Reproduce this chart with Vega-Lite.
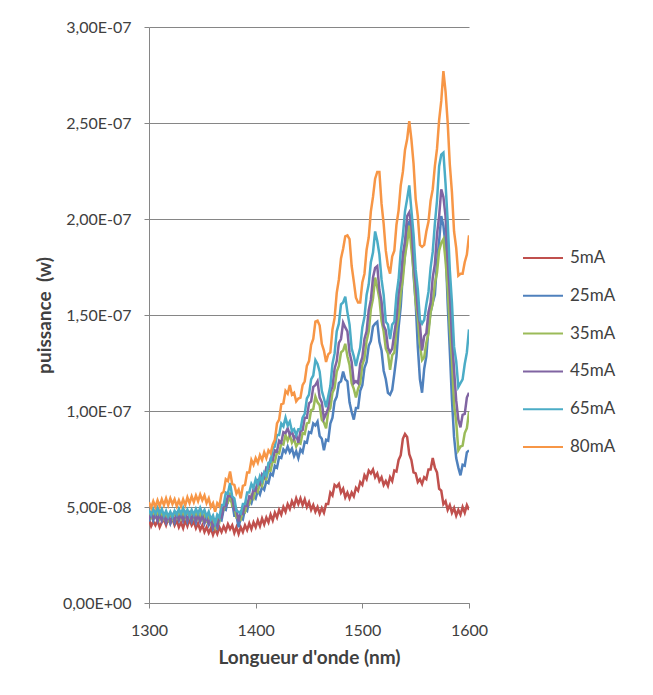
{
"$schema": "https://vega.github.io/schema/vega-lite/v6.json",
"width": 320, "height": 576,
"autosize": "none",
"padding": {"left": 149, "top": 27, "right": 184, "bottom": 92},
"background": "white",
"data": {"values": [
{"w":1300,"5mA":4.35e-8,"25mA":4.25e-8,"35mA":4.75e-8,"45mA":4.35e-8,"65mA":4.85e-8,"80mA":5.25e-8},
{"w":1302,"5mA":4.0e-8,"25mA":4.6e-8,"35mA":4.45e-8,"45mA":4.65e-8,"65mA":4.6e-8,"80mA":4.95e-8},
{"w":1304,"5mA":4.25e-8,"25mA":4.3e-8,"35mA":4.7e-8,"45mA":4.4e-8,"65mA":4.9e-8,"80mA":5.3e-8},
{"w":1306,"5mA":4.05e-8,"25mA":4.65e-8,"35mA":4.5e-8,"45mA":4.6e-8,"65mA":4.65e-8,"80mA":5.0e-8},
{"w":1308,"5mA":4.3e-8,"25mA":4.3e-8,"35mA":4.8e-8,"45mA":4.3e-8,"65mA":4.95e-8,"80mA":5.35e-8},
{"w":1310,"5mA":3.95e-8,"25mA":4.7e-8,"35mA":4.4e-8,"45mA":4.6e-8,"65mA":4.65e-8,"80mA":5.05e-8},
{"w":1312,"5mA":4.2e-8,"25mA":4.3e-8,"35mA":4.7e-8,"45mA":4.3e-8,"65mA":4.9e-8,"80mA":5.4e-8},
{"w":1314,"5mA":4.35e-8,"25mA":4.55e-8,"35mA":4.4e-8,"45mA":4.55e-8,"65mA":4.55e-8,"80mA":5.1e-8},
{"w":1316,"5mA":4.05e-8,"25mA":4.2e-8,"35mA":4.65e-8,"45mA":4.25e-8,"65mA":4.8e-8,"80mA":5.45e-8},
{"w":1318,"5mA":4.4e-8,"25mA":4.5e-8,"35mA":4.35e-8,"45mA":4.5e-8,"65mA":4.5e-8,"80mA":5.1e-8},
{"w":1320,"5mA":4.15e-8,"25mA":4.15e-8,"35mA":4.65e-8,"45mA":4.25e-8,"65mA":4.75e-8,"80mA":5.45e-8},
{"w":1322,"5mA":4.4e-8,"25mA":4.5e-8,"35mA":4.4e-8,"45mA":4.55e-8,"65mA":4.5e-8,"80mA":5.15e-8},
{"w":1324,"5mA":4.05e-8,"25mA":4.2e-8,"35mA":4.7e-8,"45mA":4.3e-8,"65mA":4.8e-8,"80mA":5.4e-8},
{"w":1326,"5mA":4.3e-8,"25mA":4.6e-8,"35mA":4.45e-8,"45mA":4.6e-8,"65mA":4.6e-8,"80mA":5.05e-8},
{"w":1328,"5mA":3.95e-8,"25mA":4.3e-8,"35mA":4.75e-8,"45mA":4.35e-8,"65mA":4.9e-8,"80mA":5.35e-8},
{"w":1330,"5mA":4.2e-8,"25mA":4.65e-8,"35mA":4.4e-8,"45mA":4.6e-8,"65mA":4.65e-8,"80mA":5.05e-8},
{"w":1332,"5mA":3.9e-8,"25mA":4.3e-8,"35mA":4.7e-8,"45mA":4.3e-8,"65mA":4.95e-8,"80mA":5.4e-8},
{"w":1334,"5mA":4.3e-8,"25mA":4.65e-8,"35mA":4.45e-8,"45mA":4.6e-8,"65mA":4.6e-8,"80mA":5.1e-8},
{"w":1336,"5mA":4.0e-8,"25mA":4.25e-8,"35mA":4.8e-8,"45mA":4.35e-8,"65mA":4.85e-8,"80mA":5.5e-8},
{"w":1338,"5mA":4.35e-8,"25mA":4.6e-8,"35mA":4.5e-8,"45mA":4.65e-8,"65mA":4.55e-8,"80mA":5.2e-8},
{"w":1340,"5mA":4.05e-8,"25mA":4.25e-8,"35mA":4.75e-8,"45mA":4.35e-8,"65mA":4.85e-8,"80mA":5.55e-8},
{"w":1342,"5mA":4.25e-8,"25mA":4.55e-8,"35mA":4.45e-8,"45mA":4.6e-8,"65mA":4.6e-8,"80mA":5.25e-8},
{"w":1344,"5mA":3.9e-8,"25mA":4.2e-8,"35mA":4.7e-8,"45mA":4.3e-8,"65mA":4.9e-8,"80mA":5.6e-8},
{"w":1346,"5mA":4.15e-8,"25mA":4.6e-8,"35mA":4.4e-8,"45mA":4.55e-8,"65mA":4.65e-8,"80mA":5.3e-8},
{"w":1348,"5mA":3.8e-8,"25mA":4.25e-8,"35mA":4.65e-8,"45mA":4.25e-8,"65mA":4.95e-8,"80mA":5.65e-8},
{"w":1350,"5mA":4.05e-8,"25mA":4.55e-8,"35mA":4.35e-8,"45mA":4.55e-8,"65mA":4.65e-8,"80mA":5.35e-8},
{"w":1352,"5mA":3.7e-8,"25mA":4.15e-8,"35mA":4.6e-8,"45mA":4.2e-8,"65mA":4.85e-8,"80mA":5.6e-8},
{"w":1354,"5mA":3.95e-8,"25mA":4.45e-8,"35mA":4.3e-8,"45mA":4.45e-8,"65mA":4.5e-8,"80mA":5.2e-8},
{"w":1356,"5mA":3.65e-8,"25mA":4.05e-8,"35mA":4.55e-8,"45mA":4.15e-8,"65mA":4.75e-8,"80mA":5.45e-8},
{"w":1358,"5mA":3.9e-8,"25mA":4.25e-8,"35mA":4.15e-8,"45mA":4.35e-8,"65mA":4.35e-8,"80mA":5.0e-8},
{"w":1360,"5mA":3.55e-8,"25mA":3.85e-8,"35mA":4.35e-8,"45mA":3.95e-8,"65mA":4.55e-8,"80mA":5.2e-8},
{"w":1362,"5mA":3.85e-8,"25mA":4.05e-8,"35mA":3.95e-8,"45mA":4.15e-8,"65mA":4.15e-8,"80mA":4.75e-8},
{"w":1364,"5mA":3.6e-8,"25mA":3.9e-8,"35mA":4.4e-8,"45mA":4.0e-8,"65mA":4.6e-8,"80mA":5.2e-8},
{"w":1366,"5mA":3.95e-8,"25mA":4.35e-8,"35mA":4.25e-8,"45mA":4.45e-8,"65mA":4.45e-8,"80mA":5.05e-8},
{"w":1368,"5mA":3.7e-8,"25mA":4.3e-8,"35mA":4.85e-8,"45mA":4.45e-8,"65mA":5.1e-8,"80mA":5.7e-8},
{"w":1370,"5mA":4.0e-8,"25mA":4.9e-8,"35mA":4.85e-8,"45mA":5.05e-8,"65mA":5.1e-8,"80mA":5.8e-8},
{"w":1372,"5mA":3.75e-8,"25mA":4.85e-8,"35mA":5.35e-8,"45mA":5.05e-8,"65mA":5.75e-8,"80mA":6.45e-8},
{"w":1374,"5mA":4.1e-8,"25mA":5.4e-8,"35mA":5.25e-8,"45mA":5.6e-8,"65mA":5.7e-8,"80mA":6.35e-8},
{"w":1376,"5mA":3.85e-8,"25mA":5.35e-8,"35mA":5.75e-8,"45mA":5.55e-8,"65mA":6.25e-8,"80mA":6.85e-8},
{"w":1378,"5mA":4.05e-8,"25mA":5.25e-8,"35mA":5.05e-8,"45mA":5.5e-8,"65mA":5.55e-8,"80mA":6.2e-8},
{"w":1380,"5mA":3.65e-8,"25mA":4.55e-8,"35mA":5.05e-8,"45mA":4.85e-8,"65mA":5.45e-8,"80mA":6.15e-8},
{"w":1382,"5mA":3.95e-8,"25mA":4.55e-8,"35mA":4.45e-8,"45mA":4.85e-8,"65mA":4.8e-8,"80mA":5.7e-8},
{"w":1384,"5mA":3.6e-8,"25mA":3.95e-8,"35mA":4.45e-8,"45mA":4.25e-8,"65mA":4.75e-8,"80mA":5.9e-8},
{"w":1386,"5mA":3.95e-8,"25mA":4.45e-8,"35mA":4.35e-8,"45mA":4.75e-8,"65mA":4.65e-8,"80mA":5.45e-8},
{"w":1388,"5mA":3.7e-8,"25mA":4.35e-8,"35mA":4.85e-8,"45mA":4.65e-8,"65mA":5.15e-8,"80mA":6.1e-8},
{"w":1390,"5mA":4.05e-8,"25mA":4.9e-8,"35mA":4.75e-8,"45mA":5.15e-8,"65mA":5.15e-8,"80mA":6.15e-8},
{"w":1392,"5mA":3.8e-8,"25mA":4.8e-8,"35mA":5.25e-8,"45mA":5.05e-8,"65mA":5.75e-8,"80mA":6.8e-8},
{"w":1394,"5mA":4.15e-8,"25mA":5.35e-8,"35mA":5.15e-8,"45mA":5.55e-8,"65mA":5.75e-8,"80mA":6.8e-8},
{"w":1396,"5mA":3.85e-8,"25mA":5.2e-8,"35mA":5.6e-8,"45mA":5.45e-8,"65mA":6.2e-8,"80mA":7.45e-8},
{"w":1398,"5mA":4.2e-8,"25mA":5.6e-8,"35mA":5.45e-8,"45mA":5.95e-8,"65mA":6.0e-8,"80mA":7.2e-8},
{"w":1400,"5mA":3.95e-8,"25mA":5.45e-8,"35mA":5.95e-8,"45mA":5.85e-8,"65mA":6.45e-8,"80mA":7.55e-8},
{"w":1402,"5mA":4.3e-8,"25mA":5.85e-8,"35mA":5.8e-8,"45mA":6.35e-8,"65mA":6.2e-8,"80mA":7.3e-8},
{"w":1404,"5mA":4.0e-8,"25mA":5.65e-8,"35mA":6.25e-8,"45mA":6.2e-8,"65mA":6.6e-8,"80mA":7.7e-8},
{"w":1406,"5mA":4.4e-8,"25mA":6.05e-8,"35mA":6.1e-8,"45mA":6.7e-8,"65mA":6.35e-8,"80mA":7.45e-8},
{"w":1408,"5mA":4.1e-8,"25mA":5.9e-8,"35mA":6.55e-8,"45mA":6.55e-8,"65mA":6.8e-8,"80mA":7.85e-8},
{"w":1410,"5mA":4.45e-8,"25mA":6.35e-8,"35mA":6.45e-8,"45mA":7.05e-8,"65mA":6.65e-8,"80mA":7.55e-8},
{"w":1412,"5mA":4.2e-8,"25mA":6.25e-8,"35mA":6.95e-8,"45mA":7.0e-8,"65mA":7.3e-8,"80mA":7.95e-8},
{"w":1414,"5mA":4.6e-8,"25mA":6.75e-8,"35mA":6.9e-8,"45mA":7.5e-8,"65mA":7.35e-8,"80mA":7.8e-8},
{"w":1416,"5mA":4.3e-8,"25mA":6.65e-8,"35mA":7.4e-8,"45mA":7.45e-8,"65mA":8.05e-8,"80mA":8.25e-8},
{"w":1418,"5mA":4.7e-8,"25mA":7.15e-8,"35mA":7.35e-8,"45mA":7.95e-8,"65mA":8.15e-8,"80mA":8.5e-8},
{"w":1420,"5mA":4.45e-8,"25mA":7.05e-8,"35mA":7.85e-8,"45mA":7.9e-8,"65mA":8.75e-8,"80mA":9.35e-8},
{"w":1422,"5mA":4.85e-8,"25mA":7.6e-8,"35mA":7.8e-8,"45mA":8.45e-8,"65mA":8.75e-8,"80mA":9.55e-8},
{"w":1424,"5mA":4.6e-8,"25mA":7.55e-8,"35mA":8.3e-8,"45mA":8.35e-8,"65mA":9.35e-8,"80mA":10.35e-8},
{"w":1426,"5mA":5.0e-8,"25mA":8.0e-8,"35mA":8.25e-8,"45mA":8.9e-8,"65mA":9.2e-8,"80mA":10.4e-8},
{"w":1428,"5mA":4.75e-8,"25mA":7.85e-8,"35mA":8.75e-8,"45mA":8.85e-8,"65mA":9.65e-8,"80mA":11.05e-8},
{"w":1430,"5mA":5.15e-8,"25mA":8.15e-8,"35mA":8.45e-8,"45mA":9.1e-8,"65mA":9.25e-8,"80mA":10.9e-8},
{"w":1432,"5mA":4.9e-8,"25mA":7.85e-8,"35mA":8.75e-8,"45mA":8.75e-8,"65mA":9.45e-8,"80mA":11.35e-8},
{"w":1434,"5mA":5.3e-8,"25mA":8.05e-8,"35mA":8.35e-8,"45mA":8.95e-8,"65mA":8.95e-8,"80mA":10.85e-8},
{"w":1436,"5mA":5.05e-8,"25mA":7.65e-8,"35mA":8.55e-8,"45mA":8.55e-8,"65mA":9.05e-8,"80mA":10.95e-8},
{"w":1438,"5mA":5.45e-8,"25mA":7.9e-8,"35mA":8.15e-8,"45mA":8.75e-8,"65mA":8.75e-8,"80mA":10.5e-8},
{"w":1440,"5mA":5.15e-8,"25mA":7.55e-8,"35mA":8.35e-8,"45mA":8.35e-8,"65mA":9.05e-8,"80mA":10.65e-8},
{"w":1442,"5mA":5.45e-8,"25mA":8.0e-8,"35mA":8.3e-8,"45mA":8.95e-8,"65mA":9.05e-8,"80mA":10.7e-8},
{"w":1444,"5mA":5.1e-8,"25mA":7.85e-8,"35mA":8.85e-8,"45mA":9.0e-8,"65mA":9.65e-8,"80mA":11.35e-8},
{"w":1446,"5mA":5.4e-8,"25mA":8.4e-8,"35mA":8.8e-8,"45mA":9.65e-8,"65mA":9.85e-8,"80mA":11.55e-8},
{"w":1448,"5mA":5.0e-8,"25mA":8.35e-8,"35mA":9.35e-8,"45mA":9.65e-8,"65mA":10.65e-8,"80mA":12.35e-8},
{"w":1450,"5mA":5.25e-8,"25mA":8.9e-8,"35mA":9.4e-8,"45mA":10.4e-8,"65mA":10.85e-8,"80mA":12.6e-8},
{"w":1452,"5mA":4.85e-8,"25mA":8.85e-8,"35mA":10.05e-8,"45mA":10.5e-8,"65mA":11.65e-8,"80mA":13.45e-8},
{"w":1454,"5mA":5.1e-8,"25mA":9.35e-8,"35mA":10.1e-8,"45mA":11.25e-8,"65mA":11.85e-8,"80mA":13.75e-8},
{"w":1456,"5mA":4.75e-8,"25mA":9.25e-8,"35mA":10.75e-8,"45mA":11.35e-8,"65mA":12.65e-8,"80mA":14.65e-8},
{"w":1458,"5mA":5.0e-8,"25mA":9.45e-8,"35mA":10.45e-8,"45mA":11.55e-8,"65mA":12.45e-8,"80mA":14.7e-8},
{"w":1460,"5mA":4.65e-8,"25mA":8.7e-8,"35mA":10.3e-8,"45mA":10.7e-8,"65mA":12.05e-8,"80mA":14.45e-8},
{"w":1462,"5mA":4.95e-8,"25mA":8.55e-8,"35mA":9.55e-8,"45mA":10.45e-8,"65mA":11.05e-8,"80mA":13.5e-8},
{"w":1464,"5mA":4.7e-8,"25mA":7.95e-8,"35mA":9.4e-8,"45mA":9.6e-8,"65mA":10.65e-8,"80mA":13.15e-8},
{"w":1466,"5mA":5.15e-8,"25mA":8.5e-8,"35mA":9.1e-8,"45mA":9.85e-8,"65mA":10.2e-8,"80mA":12.55e-8},
{"w":1468,"5mA":5.15e-8,"25mA":8.45e-8,"35mA":9.95e-8,"45mA":10.15e-8,"65mA":10.75e-8,"80mA":12.95e-8},
{"w":1470,"5mA":5.75e-8,"25mA":9.35e-8,"35mA":10.15e-8,"45mA":11.0e-8,"65mA":11.3e-8,"80mA":13.05e-8},
{"w":1472,"5mA":5.6e-8,"25mA":9.65e-8,"35mA":10.95e-8,"45mA":11.25e-8,"65mA":12.45e-8,"80mA":14.25e-8},
{"w":1474,"5mA":6.15e-8,"25mA":10.5e-8,"35mA":11.2e-8,"45mA":12.2e-8,"65mA":13.0e-8,"80mA":14.85e-8},
{"w":1476,"5mA":6.05e-8,"25mA":10.75e-8,"35mA":12.05e-8,"45mA":12.6e-8,"65mA":14.15e-8,"80mA":16.15e-8},
{"w":1478,"5mA":6.2e-8,"25mA":11.45e-8,"35mA":12.35e-8,"45mA":13.55e-8,"65mA":14.55e-8,"80mA":16.85e-8},
{"w":1480,"5mA":5.75e-8,"25mA":11.55e-8,"35mA":13.05e-8,"45mA":13.75e-8,"65mA":15.55e-8,"80mA":17.95e-8},
{"w":1482,"5mA":5.95e-8,"25mA":12.05e-8,"35mA":13.15e-8,"45mA":14.6e-8,"65mA":15.65e-8,"80mA":18.45e-8},
{"w":1484,"5mA":5.5e-8,"25mA":11.65e-8,"35mA":13.5e-8,"45mA":14.35e-8,"65mA":15.95e-8,"80mA":19.1e-8},
{"w":1486,"5mA":5.75e-8,"25mA":11.55e-8,"35mA":12.85e-8,"45mA":14.15e-8,"65mA":15.15e-8,"80mA":19.15e-8},
{"w":1488,"5mA":5.45e-8,"25mA":10.45e-8,"35mA":12.4e-8,"45mA":13.05e-8,"65mA":14.5e-8,"80mA":18.95e-8},
{"w":1490,"5mA":5.75e-8,"25mA":9.95e-8,"35mA":11.45e-8,"45mA":12.55e-8,"65mA":13.25e-8,"80mA":17.55e-8},
{"w":1492,"5mA":5.55e-8,"25mA":9.55e-8,"35mA":11.15e-8,"45mA":11.45e-8,"65mA":12.85e-8,"80mA":16.75e-8},
{"w":1494,"5mA":6.0e-8,"25mA":10.15e-8,"35mA":10.7e-8,"45mA":11.55e-8,"65mA":12.35e-8,"80mA":15.9e-8},
{"w":1496,"5mA":5.85e-8,"25mA":10.15e-8,"35mA":11.15e-8,"45mA":11.45e-8,"65mA":12.85e-8,"80mA":15.65e-8},
{"w":1498,"5mA":6.3e-8,"25mA":11.05e-8,"35mA":11.45e-8,"45mA":12.45e-8,"65mA":13.3e-8,"80mA":15.65e-8},
{"w":1500,"5mA":6.15e-8,"25mA":11.35e-8,"35mA":12.4e-8,"45mA":12.8e-8,"65mA":14.35e-8,"80mA":16.7e-8},
{"w":1502,"5mA":6.65e-8,"25mA":12.25e-8,"35mA":12.75e-8,"45mA":13.75e-8,"65mA":14.9e-8,"80mA":17.15e-8},
{"w":1504,"5mA":6.45e-8,"25mA":12.55e-8,"35mA":13.65e-8,"45mA":14.15e-8,"65mA":16.05e-8,"80mA":18.4e-8},
{"w":1506,"5mA":6.9e-8,"25mA":13.4e-8,"35mA":14.15e-8,"45mA":15.25e-8,"65mA":16.6e-8,"80mA":19.05e-8},
{"w":1508,"5mA":6.75e-8,"25mA":13.65e-8,"35mA":15.3e-8,"45mA":15.8e-8,"65mA":17.75e-8,"80mA":20.4e-8},
{"w":1510,"5mA":6.95e-8,"25mA":14.4e-8,"35mA":15.85e-8,"45mA":16.95e-8,"65mA":18.25e-8,"80mA":21.15e-8},
{"w":1512,"5mA":6.55e-8,"25mA":14.55e-8,"35mA":16.95e-8,"45mA":17.45e-8,"65mA":19.35e-8,"80mA":22.1e-8},
{"w":1514,"5mA":6.75e-8,"25mA":14.65e-8,"35mA":16.45e-8,"45mA":17.55e-8,"65mA":18.85e-8,"80mA":22.45e-8},
{"w":1516,"5mA":6.35e-8,"25mA":13.6e-8,"35mA":15.85e-8,"45mA":16.3e-8,"65mA":18.15e-8,"80mA":22.45e-8},
{"w":1518,"5mA":6.55e-8,"25mA":13.15e-8,"35mA":14.7e-8,"45mA":15.7e-8,"65mA":16.85e-8,"80mA":20.8e-8},
{"w":1520,"5mA":6.15e-8,"25mA":12.1e-8,"35mA":14.15e-8,"45mA":14.45e-8,"65mA":16.05e-8,"80mA":19.75e-8},
{"w":1522,"5mA":6.35e-8,"25mA":11.65e-8,"35mA":13.25e-8,"45mA":14.2e-8,"65mA":14.65e-8,"80mA":18.35e-8},
{"w":1524,"5mA":6.1e-8,"25mA":10.95e-8,"35mA":13.0e-8,"45mA":13.3e-8,"65mA":14.5e-8,"80mA":17.55e-8},
{"w":1526,"5mA":6.55e-8,"25mA":10.85e-8,"35mA":12.15e-8,"45mA":13.05e-8,"65mA":13.75e-8,"80mA":17.15e-8},
{"w":1528,"5mA":6.35e-8,"25mA":11.1e-8,"35mA":12.9e-8,"45mA":13.25e-8,"65mA":14.5e-8,"80mA":18.05e-8},
{"w":1530,"5mA":6.9e-8,"25mA":11.95e-8,"35mA":13.05e-8,"45mA":14.05e-8,"65mA":14.65e-8,"80mA":18.35e-8},
{"w":1532,"5mA":6.85e-8,"25mA":12.85e-8,"35mA":14.25e-8,"45mA":14.8e-8,"65mA":16.05e-8,"80mA":19.7e-8},
{"w":1534,"5mA":7.45e-8,"25mA":14.35e-8,"35mA":14.9e-8,"45mA":16.1e-8,"65mA":16.85e-8,"80mA":20.45e-8},
{"w":1536,"5mA":7.7e-8,"25mA":15.45e-8,"35mA":16.15e-8,"45mA":16.85e-8,"65mA":18.3e-8,"80mA":21.75e-8},
{"w":1538,"5mA":8.55e-8,"25mA":17.15e-8,"35mA":16.85e-8,"45mA":18.15e-8,"65mA":19.15e-8,"80mA":22.45e-8},
{"w":1540,"5mA":8.8e-8,"25mA":18.1e-8,"35mA":18.1e-8,"45mA":18.85e-8,"65mA":20.4e-8,"80mA":23.6e-8},
{"w":1542,"5mA":8.65e-8,"25mA":19.65e-8,"35mA":18.75e-8,"45mA":20.15e-8,"65mA":21.05e-8,"80mA":24.15e-8},
{"w":1544,"5mA":7.75e-8,"25mA":19.85e-8,"35mA":19.65e-8,"45mA":20.35e-8,"65mA":21.75e-8,"80mA":25.1e-8},
{"w":1546,"5mA":7.45e-8,"25mA":19.15e-8,"35mA":18.45e-8,"45mA":19.75e-8,"65mA":20.45e-8,"80mA":24.15e-8},
{"w":1548,"5mA":6.8e-8,"25mA":17.1e-8,"35mA":17.35e-8,"45mA":17.9e-8,"65mA":19.2e-8,"80mA":22.9e-8},
{"w":1550,"5mA":6.75e-8,"25mA":15.65e-8,"35mA":15.65e-8,"45mA":16.65e-8,"65mA":17.35e-8,"80mA":21.05e-8},
{"w":1552,"5mA":6.3e-8,"25mA":13.35e-8,"35mA":14.85e-8,"45mA":15.25e-8,"65mA":16.35e-8,"80mA":20.15e-8},
{"w":1554,"5mA":6.45e-8,"25mA":11.65e-8,"35mA":13.45e-8,"45mA":14.5e-8,"65mA":14.75e-8,"80mA":18.65e-8},
{"w":1556,"5mA":6.2e-8,"25mA":10.95e-8,"35mA":12.65e-8,"45mA":13.15e-8,"65mA":14.55e-8,"80mA":18.55e-8},
{"w":1558,"5mA":6.55e-8,"25mA":12.2e-8,"35mA":12.8e-8,"45mA":13.9e-8,"65mA":14.75e-8,"80mA":18.65e-8},
{"w":1560,"5mA":6.45e-8,"25mA":12.85e-8,"35mA":13.55e-8,"45mA":14.05e-8,"65mA":15.55e-8,"80mA":19.35e-8},
{"w":1562,"5mA":6.95e-8,"25mA":14.3e-8,"35mA":14.05e-8,"45mA":15.15e-8,"65mA":16.2e-8,"80mA":19.85e-8},
{"w":1564,"5mA":6.95e-8,"25mA":15.15e-8,"35mA":15.15e-8,"45mA":15.65e-8,"65mA":17.45e-8,"80mA":20.95e-8},
{"w":1566,"5mA":7.55e-8,"25mA":15.65e-8,"35mA":15.6e-8,"45mA":16.95e-8,"65mA":18.3e-8,"80mA":21.55e-8},
{"w":1568,"5mA":7.05e-8,"25mA":16.05e-8,"35mA":16.65e-8,"45mA":17.65e-8,"65mA":19.75e-8,"80mA":22.75e-8},
{"w":1570,"5mA":6.8e-8,"25mA":17.75e-8,"35mA":17.2e-8,"45mA":19.2e-8,"65mA":20.95e-8,"80mA":23.65e-8},
{"w":1572,"5mA":5.95e-8,"25mA":18.85e-8,"35mA":18.35e-8,"45mA":20.15e-8,"65mA":22.75e-8,"80mA":25.15e-8},
{"w":1574,"5mA":5.85e-8,"25mA":20.15e-8,"35mA":18.75e-8,"45mA":21.55e-8,"65mA":23.35e-8,"80mA":26.15e-8},
{"w":1576,"5mA":5.15e-8,"25mA":19.65e-8,"35mA":18.95e-8,"45mA":21.15e-8,"65mA":23.45e-8,"80mA":27.7e-8},
{"w":1578,"5mA":5.3e-8,"25mA":18.65e-8,"35mA":17.85e-8,"45mA":20.15e-8,"65mA":21.85e-8,"80mA":26.65e-8},
{"w":1580,"5mA":4.85e-8,"25mA":15.6e-8,"35mA":16.4e-8,"45mA":17.85e-8,"65mA":19.9e-8,"80mA":25.05e-8},
{"w":1582,"5mA":5.1e-8,"25mA":13.15e-8,"35mA":14.35e-8,"45mA":16.15e-8,"65mA":17.35e-8,"80mA":22.85e-8},
{"w":1584,"5mA":4.7e-8,"25mA":10.6e-8,"35mA":12.65e-8,"45mA":13.85e-8,"65mA":15.65e-8,"80mA":21.4e-8},
{"w":1586,"5mA":4.95e-8,"25mA":8.65e-8,"35mA":10.35e-8,"45mA":12.15e-8,"65mA":13.35e-8,"80mA":19.35e-8},
{"w":1588,"5mA":4.55e-8,"25mA":7.55e-8,"35mA":9.45e-8,"45mA":10.55e-8,"65mA":12.6e-8,"80mA":18.5e-8},
{"w":1590,"5mA":4.85e-8,"25mA":7.05e-8,"35mA":7.95e-8,"45mA":9.55e-8,"65mA":11.25e-8,"80mA":17.05e-8},
{"w":1592,"5mA":4.6e-8,"25mA":6.65e-8,"35mA":8.15e-8,"45mA":9.15e-8,"65mA":11.45e-8,"80mA":17.15e-8},
{"w":1594,"5mA":5.0e-8,"25mA":7.2e-8,"35mA":8.2e-8,"45mA":9.8e-8,"65mA":11.65e-8,"80mA":17.15e-8},
{"w":1596,"5mA":4.7e-8,"25mA":7.15e-8,"35mA":8.85e-8,"45mA":9.85e-8,"65mA":12.45e-8,"80mA":17.75e-8},
{"w":1598,"5mA":5.1e-8,"25mA":7.85e-8,"35mA":9.1e-8,"45mA":10.7e-8,"65mA":13.05e-8,"80mA":18.15e-8},
{"w":1600,"5mA":4.85e-8,"25mA":7.95e-8,"35mA":9.95e-8,"45mA":10.95e-8,"65mA":14.25e-8,"80mA":19.15e-8}
]},
"transform": [{"fold": ["5mA","25mA","35mA","45mA","65mA","80mA"], "as": ["serie","p"]}],
"mark": {"type": "line", "strokeWidth": 2.5, "clip": true},
"encoding": {
  "x": {"field": "w", "type": "quantitative",
    "scale": {"domain": [1300, 1600], "nice": false, "zero": false},
    "axis": {"values": [1300,1400,1500,1600], "format": "d", "grid": false, "labelFlush": false,
      "tickSize": 5, "tickColor": "#868686", "domainColor": "#868686",
      "labelFont": "Lato", "labelFontSize": 16, "labelColor": "#404040", "labelPadding": 14,
      "title": "Longueur d'onde (nm)", "titleFont": "Lato", "titleFontSize": 19, "titleFontWeight": "bold", "titleColor": "#404040", "titlePadding": 10}},
  "y": {"field": "p", "type": "quantitative",
    "scale": {"domain": [0, 3e-7], "nice": false},
    "axis": {"values": [0, 5e-8, 1e-7, 1.5e-7, 2e-7, 2.5e-7, 3e-7],
      "labelExpr": "replace(replace(replace(format(datum.value,'.2e'),'.',','),'e-','E-0'),'e+','E+0')",
      "grid": true, "gridColor": "#868686", "gridWidth": 1,
      "tickSize": 5, "tickColor": "#868686", "domainColor": "#868686",
      "labelFont": "Lato", "labelFontSize": 16, "labelColor": "#404040", "labelPadding": 13,
      "title": "puissance\u00a0 (w)", "titleFont": "Lato", "titleFontSize": 19, "titleFontWeight": "bold", "titleColor": "#404040", "titlePadding": 8}},
  "color": {"field": "serie", "type": "nominal",
    "scale": {"domain": ["5mA","25mA","35mA","45mA","65mA","80mA"],
      "range": ["#C0504D","#4F81BD","#9BBB59","#8064A2","#4BACC6","#F79646"]},
    "legend": {"title": null, "orient": "none", "legendX": 373, "legendY": 221,
      "symbolType": "stroke", "symbolSize": 1600, "symbolStrokeWidth": 2,
      "clipHeight": 20, "rowPadding": 17.8, "padding": 0, "labelOffset": 6,
      "labelFont": "Lato", "labelFontSize": 17, "labelColor": "#404040"}}
},
"config": {"view": {"stroke": null}}
}
